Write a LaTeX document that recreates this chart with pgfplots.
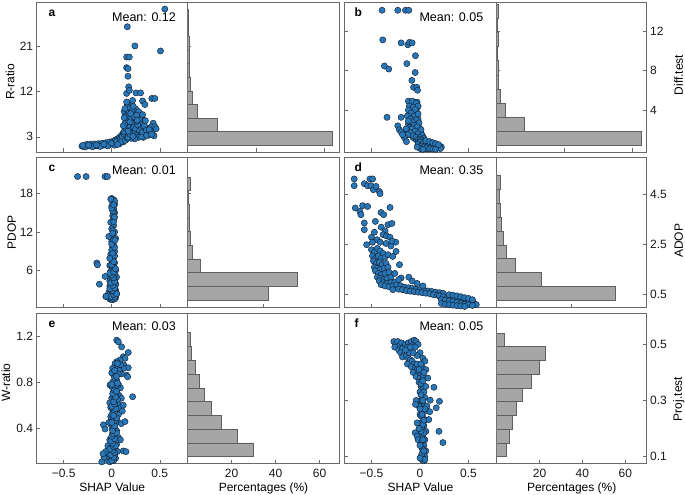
\documentclass[border=0pt]{standalone}
\usepackage{fontspec}
\setmainfont{Liberation Sans}
\usepackage{pgfplots}
\pgfplotsset{compat=1.18}
\definecolor{axgray}{RGB}{105,105,105}
\definecolor{ptblue}{RGB}{40,120,185}
\definecolor{ptedge}{RGB}{20,32,48}
\definecolor{barfill}{RGB}{166,166,166}
\definecolor{baredge}{RGB}{95,95,95}
\tikzset{
  lett/.style={anchor=base west, font=\fontsize{12}{14}\selectfont\bfseries},
  mean/.style={anchor=base east, font=\fontsize{12.5}{14}\selectfont},
}
\pgfplotsset{
  base/.style={scale only axis, anchor=south west, height=150pt,
    axis line style={draw=axgray, line width=0.7pt},
    tick style={draw=axgray, line width=0.6pt},
    tick align=inside, major tick length=3.5pt,
    xtick pos=bottom,
    font=\fontsize{12}{14}\selectfont,
    ticklabel style={font=\fontsize{12}{14}\selectfont, text=black!90},
    /pgf/number format/assume math mode=true,
  },
  sc/.style={base, xmin=-0.78, xmax=0.79, xtick={-0.5,0,0.5}, ytick pos=left},
  hi/.style={base, xmin=0, ytick pos=left},
  pts/.style={only marks, mark=*, mark size=3.1pt, mark options={solid, fill=ptblue, draw=ptedge, line width=0.45pt}},
  hbar/.style={xbar, bar shift=0pt, fill=barfill, draw=baredge, line width=0.7pt},
}
\begin{document}
\begin{tikzpicture}
\useasboundingbox (0,0) rectangle (685pt,495pt);

% ---------------- Row 1 ----------------
\begin{axis}[sc, at={(36.7pt,343pt)}, width=151pt, ymin=0, ymax=29.7, ytick={3,12,21}, xticklabels={},
  ylabel={R-ratio}, ylabel style={at={(axis description cs:-0.177,0.467)}, anchor=center}]
\addplot[pts] coordinates {
(-0.31,1.15) (-0.29,1.2) (-0.27,1.15) (-0.25,1.2) (-0.23,1.2) (-0.21,1.25) (-0.19,1.2) (-0.17,1.25) (-0.15,1.3) (-0.13,1.3) (-0.11,1.35) (-0.09,1.35) (-0.07,1.4) (-0.05,1.45) (-0.03,1.5) (-0.01,1.55) (0.01,1.65) (0.03,1.75) (0.05,1.9) (0.07,2.1) (0.09,2.35) (0.11,2.7) (0.13,3.1)
(-0.26,1.5) (-0.22,1.55) (-0.18,1.6) (-0.14,1.65) (-0.1,1.75) (-0.06,1.85) (-0.02,2.0) (0.02,2.2) (0.04,2.4) (0.06,2.6) (0.08,2.9) (0.1,3.3) (0.12,3.8) (0.14,4.4)
(-0.28,1.0) (-0.2,1.05) (-0.12,1.1) (-0.04,1.2) (0.03,1.35) (0.08,1.6) (0.12,2.0) (0.15,2.5) (0.18,3.0)
(-0.3,1.3) (-0.24,1.35) (-0.16,1.4) (-0.08,1.55) (0.0,1.75) (0.05,2.1) (0.09,2.6) (0.11,3.0) (0.13,3.5) (0.15,4.0) (0.16,4.4)
(0.1,2.0) (0.06,1.5) (0.14,2.3) (0.16,2.8) (0.18,3.4) (0.2,3.2) (0.23,3.5) (0.25,2.9) (0.27,3.8) (0.22,4.4) (0.18,4.7) (0.21,5.2) (0.24,5.8) (0.14,7.5) (0.19,7.2) (0.17,9.2) (0.2,9.5) (0.13,8.0) (0.25,8.5) (0.28,8.0) (0.31,6.8) (0.33,6.0) (0.3,5.5) (0.32,4.7) (0.37,3.7) (0.42,4.0) (0.44,3.2)
(0.13,4.0) (0.15,4.6) (0.16,5.3) (0.14,5.8) (0.17,6.4) (0.15,7.1) (0.18,7.6) (0.16,8.3) (0.13,6.8) (0.12,5.2) (0.19,5.0) (0.2,4.3) (0.21,3.7) (0.22,5.6) (0.19,6.0) (0.2,6.9) (0.23,4.9) (0.24,3.9) (0.26,3.3) (0.25,4.6) (0.27,5.4) (0.29,4.2) (0.3,3.4) (0.32,3.9) (0.28,2.9) (0.24,2.6) (0.2,2.7) (0.17,2.9) (0.19,3.5) (0.17,4.1) (0.22,3.1) (0.26,6.1) (0.23,7.0) (0.18,8.8) (0.16,9.6) (0.21,8.0) (0.29,6.5) (0.34,5.2) (0.36,4.3) (0.38,3.3) (0.33,2.9) (0.35,6.2) (0.4,4.8)
(0.155,9.9) (0.217,10.2) (0.321,10.1) (0.155,11.6) (0.252,11.7) (0.3,11.7) (0.417,10.6) (0.448,10.6) (0.176,12.9) (0.183,12.2) (0.169,15.0) (0.155,16.7) (0.169,16.5) (0.155,18.8) (0.183,18.8) (0.241,21.0) (0.507,20.0) (0.162,24.8) (0.552,28.3) (0.138,8.6) (0.224,9.05) (0.345,9.4) (0.197,7.6) (0.259,7.3) (0.321,7.4) (0.266,6.3) (0.431,5.7) (0.414,5.0) (0.448,5.0) (0.390,4.4) (0.462,4.6) (0.310,3.0) (0.362,3.3) (0.414,3.5)
};
\node[lett] at (rel axis cs:0.055,0.903) {a};
\node[mean] at (rel axis cs:0.945,0.87) {Mean: 0.12};
\end{axis}

\begin{axis}[hi, at={(187.7pt,343pt)}, width=151.6pt, xmax=77.7, xtick={35,70}, xticklabels={},
  ymin=0, ymax=29.7, ytick={3,12,21}, yticklabels={}]
\addplot[hbar, bar width=2.7] coordinates {(74.0,2.65) (15.0,5.35) (4.9,8.05) (2.4,10.75) (1.5,13.45) (1.0,16.15) (0.9,18.85) (0.7,21.55) (0.4,24.25) (0.3,26.95)};
\end{axis}

\begin{axis}[sc, at={(344.3pt,343pt)}, width=152.4pt, ymin=-0.25, ymax=14.94, ytick={4,8,12}, xticklabels={}, yticklabels={}]
\addplot[pts] coordinates {
(-0.391,14.1) (-0.229,14.1) (-0.15,14.1) (-0.116,14.1)
(-0.384,11.1) (-0.195,10.8) (-0.126,10.6) (-0.109,10.85) (-0.081,10.8)
(-0.047,9.5) (-0.367,8.46) (-0.322,8.15) (-0.136,8.7) (-0.05,7.8) (-0.084,7.0) (-0.067,6.3) (-0.033,6.3) (-0.026,6.0)
(-0.34,3.26) (-0.195,3.26)
(-0.1,4.8) (-0.06,4.8) (-0.03,4.8) (-0.1,4.5) (-0.05,4.5) (-0.09,4.2) (-0.03,4.2) (-0.07,4.0) (-0.1,3.8) (-0.04,3.8) (-0.08,3.5) (-0.03,3.5) (-0.11,3.2) (-0.06,3.2) (-0.02,3.1) (-0.09,2.9) (-0.04,2.8) (-0.12,2.6) (-0.07,2.6) (-0.02,2.5) (-0.1,2.3) (-0.05,2.2) (0.0,2.1) (-0.08,2.0) (-0.03,1.9) (-0.13,1.8) (0.01,1.7) (-0.06,1.6) (-0.1,1.5) (-0.02,1.4) (0.03,1.3) (-0.07,1.2) (-0.04,1.0)
(-0.12,4.9) (-0.08,4.9) (-0.04,4.7) (-0.11,4.4) (-0.07,4.3) (-0.02,4.4) (-0.12,4.0) (-0.05,4.05) (-0.09,3.7) (-0.13,3.4) (-0.06,3.4) (-0.02,3.6) (-0.1,3.1) (-0.04,3.0) (-0.08,2.8) (-0.12,2.9) (-0.01,2.7) (-0.06,2.45) (-0.11,2.2) (-0.03,2.3) (-0.08,2.1) (0.01,2.0) (-0.05,1.85) (-0.1,1.7) (-0.02,1.6) (0.02,1.45) (-0.07,1.4) (-0.04,1.25) (0.0,1.2) (0.04,1.1) (-0.02,1.0)
(-0.229,2.4) (-0.212,2.0) (-0.195,1.8) (-0.143,2.1) (-0.126,1.5) (-0.16,1.2) (-0.14,0.8) (-0.18,1.5)
(0.0,1.0) (0.02,0.9) (0.04,0.8) (0.06,0.7) (0.08,0.6) (0.1,0.5) (0.12,0.4) (0.14,0.3) (0.16,0.25) (0.18,0.2) (0.2,0.15) (0.01,0.6) (0.03,0.5) (0.05,0.4) (0.07,0.3) (0.09,0.2) (0.11,0.15) (0.13,0.1) (-0.02,0.7) (0.0,0.4) (0.02,0.2) (0.05,0.1) (0.08,0.05) (0.15,0.6) (0.17,0.45) (0.19,0.35) (0.21,0.3)
(0.02,0.95) (0.05,0.85) (0.08,0.75) (0.11,0.65) (0.14,0.55) (0.17,0.45) (0.2,0.35) (0.22,0.25) (0.0,0.75) (0.03,0.6) (0.06,0.5) (0.09,0.4) (0.12,0.3) (0.15,0.2) (0.18,0.15) (0.21,0.1) (-0.02,0.5) (0.01,0.35) (0.04,0.25) (0.07,0.15) (0.1,0.08) (0.13,0.05) (0.16,0.02) (0.0,0.1) (0.03,0.02) (-0.03,0.25) (0.06,0.9) (0.1,0.8) (0.13,0.7) (0.16,0.6) (0.19,0.5)
};
\node[lett] at (rel axis cs:0.045,0.903) {b};
\node[mean] at (rel axis cs:0.935,0.87) {Mean: 0.05};
\end{axis}

\begin{axis}[hi, at={(496.7pt,343pt)}, width=150pt, xmax=77.7, xtick={35,70}, xticklabels={},
  ymin=-0.25, ymax=14.94, ytick={4,8,12}, ytick pos=both, yticklabel pos=right,
  ylabel={Diff.test}, ylabel style={at={(axis description cs:1.213,0.513)}, anchor=center}]
\addplot[hbar, bar width=1.43] coordinates {(75.1,1.115) (14.3,2.545) (4.3,3.975) (2.1,5.405) (1.1,6.835) (0.8,8.265) (0.4,9.695) (0.9,11.125) (0.2,12.555) (0.9,13.985)};
\end{axis}

% ---------------- Row 2 ----------------
\begin{axis}[sc, at={(36.7pt,187.8pt)}, width=151pt, ymin=0.33, ymax=23.6, ytick={6,12,18}, xticklabels={},
  ylabel={PDOP}, ylabel style={at={(axis description cs:-0.166,0.5)}, anchor=center}]
\addplot[pts] coordinates {
(-0.355,20.6) (-0.266,20.6) (-0.069,20.6) (-0.045,20.6)
(0.0,17.2) (0.02,17.0) (0.01,16.6) (0.03,16.3) (0.0,16.0) (0.02,15.6) (0.03,15.0) (0.01,14.5) (0.02,14.0) (-0.01,13.5) (0.02,13.0) (0.0,12.5) (0.03,12.0) (0.01,11.5) (0.04,11.0) (-0.03,11.3) (0.0,10.5) (0.02,10.0) (0.01,9.5) (0.03,9.0) (-0.01,8.5) (0.02,8.0) (0.0,7.6) (0.03,7.2) (-0.02,6.8) (0.01,6.4) (0.04,6.0) (0.0,5.6) (0.02,5.2) (-0.01,4.8) (0.03,4.5) (0.0,4.2) (0.02,3.9) (-0.02,3.6) (0.01,3.3) (0.04,3.0) (0.0,2.8) (0.02,2.5) (-0.01,2.3) (0.03,2.1) (0.0,1.9) (0.02,1.7) (0.01,1.5) (-0.02,1.6) (0.05,2.4) (-0.06,2.0) (0.04,1.8) (-0.03,2.6) (0.03,3.6) (-0.02,4.4) (0.05,5.0) (0.04,4.0)
(0.0,1.5) (0.03,1.6) (-0.01,1.8) (0.02,2.0) (0.04,2.2) (-0.02,2.4) (0.01,2.6) (0.03,2.9) (-0.01,3.1) (0.02,3.4) (0.04,3.8) (0.0,4.0) (0.01,4.6) (0.03,5.4) (-0.01,5.9) (0.02,6.6) (0.01,7.0) (0.03,8.3) (0.0,9.2) (0.02,10.8) (0.01,12.2) (0.02,14.8) (0.01,15.3) (0.03,16.8) (-0.01,17.1)
(0.01,1.7) (0.03,1.9) (0.0,2.2) (-0.01,2.0) (0.02,2.3) (0.04,2.6) (0.01,2.9) (-0.02,3.2) (0.03,3.3) (0.01,3.7) (-0.01,4.1) (0.03,4.3) (0.02,4.9) (0.0,5.3) (-0.02,5.6) (0.02,5.8) (0.04,6.3) (0.0,6.9) (0.02,7.4) (-0.02,7.9) (0.01,8.7) (0.03,9.6) (0.0,10.1) (0.01,11.8) (0.02,13.6) (0.03,14.3) (0.0,15.7) (0.02,16.2)
(-0.155,7.2) (-0.148,6.9) (-0.069,5.1) (-0.128,3.9) (-0.059,2.0) (0.052,2.4) (0.034,10.75)
};
\node[lett] at (rel axis cs:0.055,0.903) {c};
\node[mean] at (rel axis cs:0.945,0.887) {Mean: 0.01};
\end{axis}

\begin{axis}[hi, at={(187.7pt,187.8pt)}, width=151.6pt, xmax=70, xtick={35,70}, xticklabels={},
  ymin=0.33, ymax=23.6, ytick={6,12,18}, yticklabels={}]
\addplot[hbar, bar width=2.12] coordinates {(37.3,2.52) (50.5,4.64) (5.7,6.76) (2.3,8.88) (1.4,11.0) (0.7,13.12) (0.7,15.24) (0.5,17.36) (1.1,19.48)};
\end{axis}

\begin{axis}[sc, at={(344.3pt,187.8pt)}, width=152.4pt, ymin=0, ymax=6.0, ytick={0.5,2.5,4.5}, xticklabels={}, yticklabels={}]
\addplot[pts] coordinates {
(-0.678,5.13) (-0.678,4.86) (-0.574,4.94) (-0.54,4.86) (-0.516,5.13) (-0.488,5.13) (-0.505,4.86) (-0.481,4.7) (-0.453,4.83) (-0.419,4.63) (-0.412,4.54)
(-0.667,3.97) (-0.591,4.06) (-0.54,4.03) (-0.619,3.83) (-0.609,3.7) (-0.309,3.99) (-0.402,3.79) (-0.374,3.7)
(-0.574,3.37) (-0.46,3.43) (-0.574,3.1) (-0.47,3.0) (-0.4,3.2) (-0.36,3.05) (-0.38,2.9) (-0.345,2.85) (-0.31,2.8) (-0.5,2.8) (-0.44,2.7) (-0.55,2.5) (-0.49,2.6) (-0.41,2.6) (-0.35,2.55) (-0.3,2.45)
(-0.5,2.3) (-0.47,2.2) (-0.44,2.35) (-0.41,2.25) (-0.38,2.15) (-0.49,2.05) (-0.46,1.95) (-0.43,2.05) (-0.4,1.95) (-0.36,2.0) (-0.33,2.1) (-0.48,1.85) (-0.45,1.75) (-0.42,1.8) (-0.39,1.7) (-0.35,1.75) (-0.47,1.6) (-0.44,1.55) (-0.41,1.5) (-0.37,1.55) (-0.33,1.6) (-0.46,1.45) (-0.43,1.35) (-0.4,1.3) (-0.36,1.35) (-0.32,1.4) (-0.44,1.2) (-0.41,1.15) (-0.38,1.1) (-0.34,1.15) (-0.3,1.2) (-0.42,1.05) (-0.38,0.98) (-0.34,0.95) (-0.3,0.98) (-0.26,1.0) (-0.4,0.9) (-0.36,0.85) (-0.32,0.82) (-0.28,0.85) (-0.24,0.9) (-0.2,0.86) (-0.16,0.8) (-0.12,0.78) (-0.08,0.75) (-0.04,0.72) (0.0,0.7) (0.04,0.68) (0.08,0.65) (0.12,0.63) (0.16,0.6) (0.2,0.58) (0.24,0.55)
(-0.28,0.7) (-0.22,0.72) (-0.18,0.7) (-0.14,0.66) (-0.1,0.64) (-0.06,0.62) (-0.02,0.6) (0.02,0.58) (0.06,0.56) (0.1,0.54) (0.14,0.5) (0.18,0.48)
(0.2,0.45) (0.24,0.42) (0.28,0.4) (0.32,0.38) (0.36,0.35) (0.4,0.3) (0.44,0.28) (0.48,0.24) (0.52,0.2) (0.56,0.15) (0.58,0.1)
(0.22,0.3) (0.26,0.28) (0.3,0.25) (0.34,0.22) (0.38,0.2) (0.42,0.15) (0.46,0.12) (0.5,0.1) (0.54,0.07)
(0.22,0.15) (0.26,0.12) (0.3,0.1) (0.34,0.08) (0.38,0.06) (0.42,0.05) (0.46,0.03)
(0.3,0.5) (0.34,0.48) (0.38,0.45) (0.42,0.42) (0.46,0.38) (0.5,0.35) (0.54,0.3)
(-0.247,2.23) (-0.212,1.7) (-0.281,2.03) (-0.195,1.17) (-0.116,1.2) (-0.26,1.35) (-0.22,1.1) (-0.08,1.05) (-0.03,0.95) (0.03,0.85) (-0.25,2.6) (-0.29,2.65) (-0.33,3.3) (-0.29,3.35)
};
\node[lett] at (rel axis cs:0.045,0.903) {d};
\node[mean] at (rel axis cs:0.935,0.887) {Mean: 0.35};
\end{axis}

\begin{axis}[hi, at={(496.7pt,187.8pt)}, width=150pt, xmax=70, xtick={35,70}, xticklabels={},
  ymin=0, ymax=6.0, ytick={0.5,2.5,4.5}, yticklabels={0.5,2.5,4.5}, ytick pos=both, yticklabel pos=right,
  ylabel={ADOP}, ylabel style={at={(axis description cs:1.213,0.443)}, anchor=center}]
\addplot[hbar, bar width=0.555] coordinates {(55.2,0.5475) (20.8,1.1025) (8.9,1.6575) (4.6,2.2125) (3.1,2.7675) (2.2,3.3225) (1.5,3.8775) (1.2,4.4325) (1.7,4.9875)};
\end{axis}

% ---------------- Row 3 ----------------
\begin{axis}[sc, at={(36.7pt,31.8pt)}, width=151pt, ymin=0.098, ymax=1.396, ytick={0.4,0.8,1.2}, yticklabels={0.4,0.8,1.2},
  xticklabels={−0.5,0,0.5}, xticklabel style={yshift=-2pt},
  ylabel={W-ratio}, ylabel style={at={(axis description cs:-0.205,0.537)}, anchor=center},
  xlabel={SHAP Value}, xlabel style={at={(axis description cs:0.5,-0.19)}, anchor=base}]
\addplot[pts] coordinates {
(0.052,1.163) (0.069,1.148) (0.103,1.105) (0.172,1.056) (0.12,1.019) (0.138,1.005) (0.086,0.99) (0.052,0.976) (0.035,0.961) (0.128,0.947) (0.172,0.924) (0.121,0.918) (0.035,0.918) (0.045,0.889) (0.155,0.86) (0.166,0.846) (0.06,0.93) (0.09,0.95) (0.08,0.9) (0.1,0.87)
(-0.017,0.774) (0.0,0.76) (0.217,0.673) (0.03,0.8) (0.05,0.82) (0.02,0.72) (0.06,0.7) (0.08,0.68) (0.1,0.66) (0.0,0.66) (0.03,0.64) (-0.02,0.62) (0.05,0.6) (0.08,0.58) (0.01,0.56) (0.04,0.54) (0.07,0.52) (-0.01,0.5) (0.02,0.48) (0.06,0.46) (0.1,0.44) (0.0,0.42) (0.03,0.4) (0.05,0.38) (0.01,0.36) (0.04,0.34) (0.07,0.32) (-0.02,0.3) (0.02,0.28) (0.05,0.26) (0.0,0.24) (0.03,0.22) (0.06,0.2) (-0.03,0.18) (0.01,0.16) (0.04,0.14) (-0.05,0.13) (0.02,0.12) (-0.02,0.11)
(-0.086,0.43) (-0.069,0.394) (0.138,0.458) (0.12,0.204) (0.148,0.198) (-0.103,0.11) (-0.08,0.15) (-0.06,0.2) (-0.09,0.18) (-0.04,0.25) (0.09,0.3) (0.11,0.55) (0.12,0.6) (0.09,0.75) (0.07,0.78) (0.04,0.7) (0.02,0.86) (-0.01,0.58) (-0.03,0.45) (0.06,0.62) (0.0,0.88) (0.01,0.92)
(0.0,0.14) (0.03,0.17) (0.01,0.2) (-0.01,0.23) (0.02,0.26) (0.04,0.29) (0.0,0.32) (0.03,0.35) (0.01,0.39) (0.02,0.44) (0.04,0.47) (0.0,0.52) (0.03,0.55) (0.05,0.66) (0.02,0.68) (0.04,0.76) (0.01,0.8) (0.03,0.84) (0.06,0.79) (0.07,0.87)
(0.0,0.12) (0.02,0.15) (-0.01,0.17) (0.03,0.19) (0.01,0.21) (-0.02,0.22) (0.02,0.24) (0.04,0.25) (0.01,0.27) (-0.01,0.29) (0.03,0.31) (0.0,0.33) (0.02,0.35) (0.05,0.36) (0.01,0.38) (0.03,0.42) (0.0,0.45) (0.05,0.49) (0.02,0.51) (0.04,0.57) (0.0,0.59) (0.03,0.61) (0.06,0.65) (0.02,0.63) (0.04,0.67) (0.01,0.7) (0.03,0.73) (0.05,0.72) (0.0,0.78) (0.05,0.85) (0.03,0.9) (0.06,0.96)
};
\node[lett] at (rel axis cs:0.055,0.903) {e};
\node[mean] at (rel axis cs:0.945,0.887) {Mean: 0.03};
\end{axis}

\begin{axis}[hi, at={(187.7pt,31.8pt)}, width=151.6pt, xmax=69, xtick={20,40,60}, xticklabel style={yshift=-2pt},
  ymin=0.098, ymax=1.396, ytick={0.4,0.8,1.2}, yticklabels={},
  xlabel={Percentages (\%)}, xlabel style={at={(axis description cs:0.5,-0.19)}, anchor=base}]
\addplot[hbar, bar width=0.119] coordinates {(29.8,0.2145) (22.5,0.3335) (15.5,0.4525) (10.9,0.5715) (7.5,0.6905) (5.3,0.8095) (3.3,0.9285) (1.8,1.0475) (1.4,1.1665)};
\end{axis}

\begin{axis}[sc, at={(344.3pt,31.8pt)}, width=152.4pt, ymin=0.0765, ymax=0.611, ytick={0.1,0.3,0.5}, yticklabels={},
  xticklabels={−0.5,0,0.5}, xticklabel style={yshift=-2pt},
  xlabel={SHAP Value}, xlabel style={at={(axis description cs:0.5,-0.19)}, anchor=base}]
\addplot[pts] coordinates {
(-0.27,0.51) (-0.25,0.50) (-0.23,0.51) (-0.21,0.495) (-0.19,0.505) (-0.17,0.49) (-0.15,0.50) (-0.12,0.505) (-0.09,0.51) (-0.06,0.515) (-0.04,0.51) (-0.02,0.5) (-0.26,0.49) (-0.22,0.48) (-0.18,0.485) (-0.13,0.49) (-0.08,0.495) (-0.05,0.49)
(-0.2,0.47) (-0.16,0.465) (-0.18,0.455) (-0.14,0.46) (-0.12,0.45) (-0.1,0.445) (-0.08,0.44) (-0.06,0.43) (-0.13,0.43) (-0.09,0.42) (-0.05,0.415) (-0.03,0.41) (-0.07,0.4) (-0.02,0.395) (-0.04,0.385) (0.0,0.38) (0.02,0.37) (-0.01,0.365) (0.03,0.45) (0.05,0.44) (0.0,0.47) (-0.03,0.46) (0.02,0.42) (0.06,0.41)
(0.01,0.35) (0.03,0.34) (0.0,0.33) (0.02,0.32) (0.05,0.31) (0.01,0.3) (0.03,0.29) (-0.01,0.28) (0.02,0.27) (0.04,0.26) (0.0,0.25) (0.03,0.24) (0.05,0.23) (0.01,0.22) (0.04,0.21) (0.02,0.2) (0.06,0.19) (0.0,0.18) (0.03,0.17) (0.05,0.16) (0.01,0.15) (0.04,0.14) (0.02,0.13) (0.06,0.12) (0.03,0.11) (0.05,0.1) (0.02,0.09) (0.04,0.085) (0.07,0.28) (0.06,0.35)
(0.143,0.347) (-0.04,0.3) (-0.047,0.286) (0.105,0.301) (0.167,0.274) (0.2,0.297) (0.09,0.232) (-0.03,0.22) (-0.05,0.185) (-0.03,0.173) (0.195,0.19) (0.236,0.15) (0.08,0.38) (0.1,0.26) (-0.02,0.16)
(0.0,0.4) (0.03,0.39) (0.01,0.36) (0.04,0.33) (0.02,0.3) (0.05,0.27) (0.01,0.245) (0.03,0.215) (0.04,0.185) (0.02,0.155) (0.03,0.125) (0.01,0.1)
(0.01,0.32) (0.03,0.3) (0.0,0.27) (0.02,0.25) (0.04,0.23) (0.01,0.19) (0.03,0.16) (0.0,0.14) (0.02,0.11) (0.04,0.12) (0.05,0.09) (0.0,0.095) (-0.01,0.2) (-0.11,0.47) (-0.15,0.48) (-0.07,0.47) (-0.1,0.49) (-0.03,0.43) (0.01,0.43) (-0.01,0.41) (0.04,0.4) (0.03,0.37)
};
\node[lett] at (rel axis cs:0.045,0.903) {f};
\node[mean] at (rel axis cs:0.935,0.887) {Mean: 0.05};
\end{axis}

\begin{axis}[hi, at={(496.7pt,31.8pt)}, width=150pt, xmax=70, xtick={20,40,60}, xticklabel style={yshift=-2pt},
  ymin=0.0765, ymax=0.611, ytick={0.1,0.3,0.5}, yticklabels={0.1,0.3,0.5}, ytick pos=both, yticklabel pos=right,
  ylabel={Proj.test}, ylabel style={at={(axis description cs:1.213,0.428)}, anchor=center},
  xlabel={Percentages (\%)}, xlabel style={at={(axis description cs:0.5,-0.19)}, anchor=base}]
\addplot[hbar, bar width=0.0489] coordinates {(4.7,0.1245) (5.7,0.1734) (7.3,0.2223) (9.3,0.2712) (12.1,0.3201) (16.0,0.369) (19.9,0.4179) (22.6,0.4668) (3.4,0.5157)};
\end{axis}
\end{tikzpicture}
\end{document}
